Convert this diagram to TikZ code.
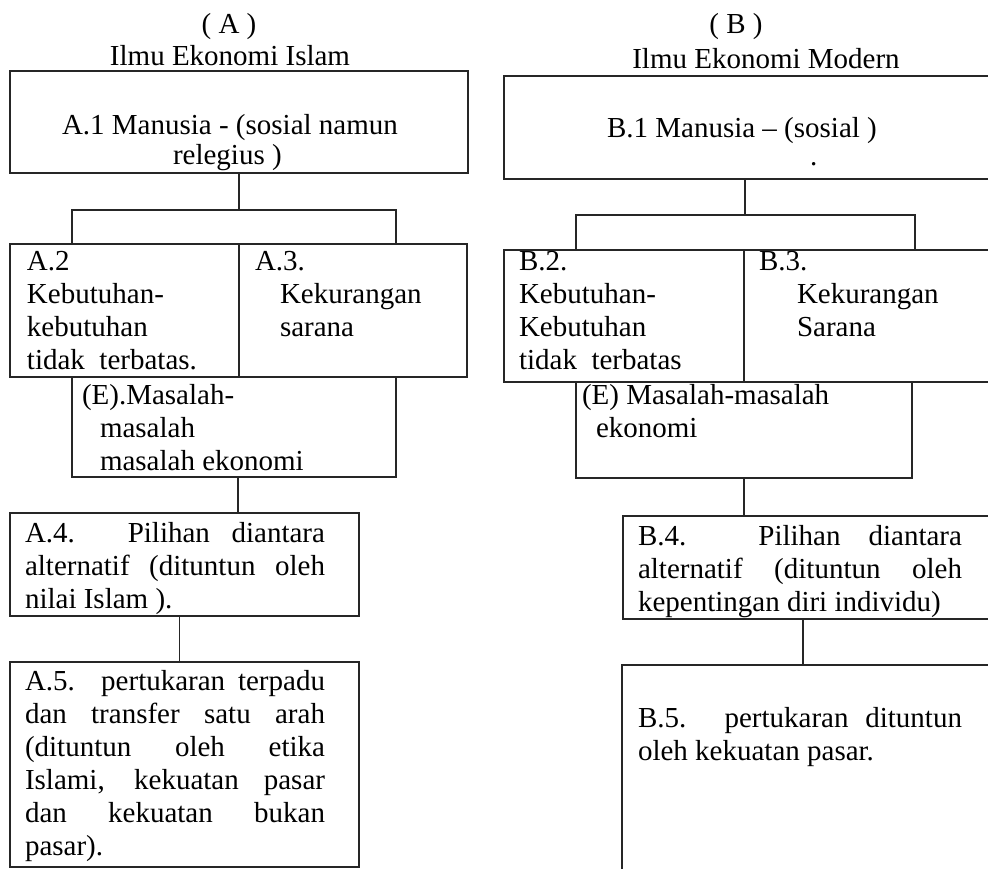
\documentclass[tikz,border=0pt]{standalone}
\usepackage{fontspec}
\setmainfont{Liberation Serif}
\newcommand{\justline}[2]{\makebox[#1][s]{#2}}
\begin{document}
\begin{tikzpicture}[x=1pt,y=-1pt,
  box/.style={draw=black!85, line width=1.3pt, inner sep=0pt, outer sep=0pt, anchor=north west},
  lbl/.style={anchor=base west, inner sep=0pt, outer sep=0pt, font=\fontsize{29}{33}\selectfont},
  head/.style={anchor=base, inner sep=0pt, outer sep=0pt, font=\fontsize{29}{33}\selectfont},
  link/.style={draw=black!85, line width=1.3pt}]
\useasboundingbox (0,0) rectangle (988,868);
\clip (0,0) rectangle (988,868);
\fill[white] (0,0) rectangle (988,868);

% ---------- column A ----------
\node[head] (ha) at (229,33) {( A )};
\node[head] (ta) at (230,65) {Ilmu Ekonomi Islam};

\node[box, minimum width=458pt, minimum height=102pt] (a1) at (10,71) {};
\node[box, minimum width=229pt, minimum height=133pt] (a2) at (10,244) {};
\node[box, minimum width=228pt, minimum height=133pt] (a3) at (239,244) {};
\node[box, minimum width=324pt, minimum height=100pt] (ea) at (72,377) {};
\node[box, minimum width=349pt, minimum height=103pt] (a4) at (10,513) {};
\node[box, minimum width=349pt, minimum height=205pt] (a5) at (10,662) {};

\node[lbl] (a1t) at (62,134) {A.1 Manusia - (sosial namun};
\node[lbl] (a1u) at (173,164) {relegius )};
\node[lbl] (a2t) at (27,270) {\parbox[t]{210pt}{A.2\\Kebutuhan-\\kebutuhan\\tidak\ \ terbatas.}};
\node[lbl] (a3t) at (255,270) {\parbox[t]{210pt}{A.3.\\\hspace*{25pt}Kekurangan\\\hspace*{25pt}sarana}};
\node[lbl] (eat) at (82,404) {\parbox[t]{310pt}{(E).Masalah-\\\hspace*{18pt}masalah\\\hspace*{18pt}masalah ekonomi}};
\node[lbl] (a4t) at (25,542) {\parbox[t]{330pt}{\justline{300pt}{A.4. Pilihan diantara}\\\justline{300pt}{alternatif (dituntun oleh}\\nilai Islam ).}};
\node[lbl] (a5t) at (25,690) {\parbox[t]{330pt}{\justline{300pt}{A.5. pertukaran terpadu}\\\justline{300pt}{dan transfer satu arah}\\\justline{300pt}{(dituntun oleh etika}\\\justline{300pt}{Islami, kekuatan pasar}\\\justline{300pt}{dan kekuatan bukan}\\pasar).}};

\coordinate (fal) at (72,210);
\coordinate (far) at (396,210);
\coordinate (eac) at ([xshift=4pt]ea.south);
\coordinate (a4c) at ([xshift=-5pt]a4.south);
\draw[link] (a1.south) -- (a1.south |- fal);
\draw[link] (fal |- a2.north) -- (fal) -- (far) -- (far |- a3.north);
\draw[link] (eac) -- (eac |- a4.north);
\draw[link] (a4c) -- (a4c |- a5.north);

% ---------- column B ----------
\node[head] (hb) at (736,33) {( B )};
\node[head] (tb) at (766,68) {Ilmu Ekonomi Modern};

\node[box, minimum width=520pt, minimum height=103pt] (b1) at (504,76) {};
\node[box, minimum width=240pt, minimum height=132pt] (b2) at (504,250) {};
\node[box, minimum width=280pt, minimum height=132pt] (b3) at (744,250) {};
\node[box, minimum width=336pt, minimum height=96pt] (eb) at (576,382) {};
\node[box, minimum width=400pt, minimum height=103pt] (b4) at (623,516) {};
\node[box, minimum width=400pt, minimum height=220pt] (b5) at (622,665) {};

\node[lbl] (b1t) at (607,137) {B.1 Manusia – (sosial )};
\node[lbl] (bdot) at (810,165) {.};
\node[lbl] (b2t) at (519,270) {\parbox[t]{220pt}{B.2.\\Kebutuhan-\\Kebutuhan\\tidak\ \ terbatas}};
\node[lbl] (b3t) at (759,270) {\parbox[t]{220pt}{B.3.\\\hspace*{38pt}Kekurangan\\\hspace*{38pt}Sarana}};
\node[lbl] (ebt) at (582,404) {\parbox[t]{320pt}{(E) Masalah-masalah\\\hspace*{14pt}ekonomi}};
\node[lbl] (b4t) at (638,545) {\parbox[t]{340pt}{\justline{324pt}{B.4. Pilihan diantara}\\\justline{324pt}{alternatif (dituntun oleh}\\kepentingan diri individu)}};
\node[lbl] (b5t) at (638,727) {\parbox[t]{340pt}{\justline{324pt}{B.5. pertukaran dituntun}\\oleh kekuatan pasar.}};

\coordinate (fbl) at (576,215);
\coordinate (fbr) at (915,215);
\coordinate (b1c) at ([xshift=241pt]b1.south west);
\coordinate (b4c) at ([xshift=180pt]b4.south west);
\draw[link] (b1c) -- (b1c |- fbl);
\draw[link] (fbl |- b2.north) -- (fbl) -- (fbr) -- (fbr |- b3.north);
\draw[link] (eb.south) -- (eb.south |- b4.north);
\draw[link] (b4c) -- (b4c |- b5.north);
\end{tikzpicture}
\end{document}
